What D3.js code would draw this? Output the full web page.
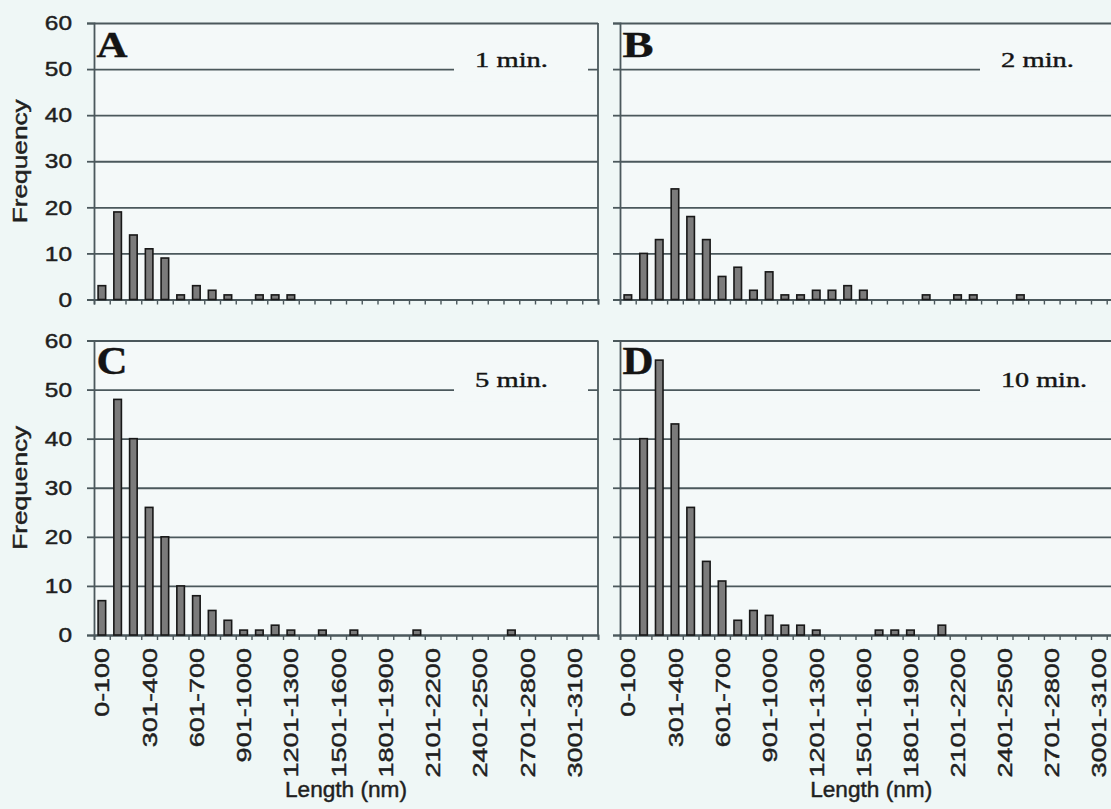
<!DOCTYPE html>
<html>
<head>
<meta charset="utf-8">
<script src="https://cdn.jsdelivr.net/npm/d3@7"></script>
<style>
  html, body { margin: 0; padding: 0; background: #eff7f6; }
  svg { display: block; }
  .sans { font-family: "Liberation Sans", Arial, Helvetica, sans-serif; fill: #1f1f1f; stroke: #1f1f1f; stroke-width: 0.45; }
  .serif { font-family: "Liberation Serif", "Times New Roman", serif; fill: #141414; stroke: #141414; stroke-width: 0.4; }
</style>
</head>
<body>
<svg id="chart" width="1111" height="809"></svg>
<script>
// Length classes (nm), 100 nm wide
const categories = [
  "0-100", "101-200", "201-300", "301-400", "401-500", "501-600", "601-700", "701-800",
  "801-900", "901-1000", "1001-1100", "1101-1200", "1201-1300", "1301-1400", "1401-1500", "1501-1600",
  "1601-1700", "1701-1800", "1801-1900", "1901-2000", "2001-2100", "2101-2200", "2201-2300", "2301-2400",
  "2401-2500", "2501-2600", "2601-2700", "2701-2800", "2801-2900", "2901-3000", "3001-3100", "3101-3200"
];
// Every third class is labelled on the x axis
const tickLabels = [
  "0-100", "301-400", "601-700", "901-1000", "1201-1300", "1501-1600",
  "1801-1900", "2101-2200", "2401-2500", "2701-2800", "3001-3100"
];
const yTicks = [0, 10, 20, 30, 40, 50, 60];

// Frequency counts per length class
const freq1min = [3, 19, 14, 11, 9, 1, 3, 2, 1, 0, 1, 1, 1, 0, 0, 0, 0, 0, 0, 0, 0, 0, 0, 0, 0, 0, 0, 0, 0, 0, 0, 0];
const freq2min = [1, 10, 13, 24, 18, 13, 5, 7, 2, 6, 1, 1, 2, 2, 3, 2, 0, 0, 0, 1, 0, 1, 1, 0, 0, 1, 0, 0, 0, 0, 0, 0];
const freq5min = [7, 48, 40, 26, 20, 10, 8, 5, 3, 1, 1, 2, 1, 0, 1, 0, 1, 0, 0, 0, 1, 0, 0, 0, 0, 0, 1, 0, 0, 0, 0, 0];
const freq10min = [0, 40, 56, 43, 26, 15, 11, 3, 5, 4, 2, 2, 1, 0, 0, 0, 1, 1, 1, 0, 2, 0, 0, 0, 0, 0, 0, 0, 0, 0, 0, 0];

const panelLetters = ["A", "B", "C", "D"];
const panelTimes = ["1 min.", "2 min.", "5 min.", "10 min."];
const yTitle = "Frequency";
const xTitle = "Length (nm)";

// Panel frames (pixels)
const panels = [
  { letter: panelLetters[0], time: panelTimes[0], values: freq1min,  x0: 94,  x1: 598,    y0: 23,    y1: 299.5, yLabels: true,  xLabels: false },
  { letter: panelLetters[1], time: panelTimes[1], values: freq2min,  x0: 620, x1: 1122.4, y0: 23,    y1: 299.5, yLabels: false, xLabels: false },
  { letter: panelLetters[2], time: panelTimes[2], values: freq5min,  x0: 94,  x1: 598,    y0: 340.5, y1: 635,   yLabels: true,  xLabels: true },
  { letter: panelLetters[3], time: panelTimes[3], values: freq10min, x0: 620, x1: 1122.4, y0: 340.5, y1: 635,   yLabels: false, xLabels: true }
];

const GRID = "#4b585c";
const PLOT_BG = "#f4f9f9";
const svg = d3.select("#chart");

svg.append("rect").attr("width", 1111).attr("height", 809).attr("fill", "#eff7f6");

panels.forEach(p => {
  const g = svg.append("g");
  const w = p.x1 - p.x0;

  const x = d3.scaleBand().domain(categories).range([p.x0, p.x1])
    .paddingInner(0.52).paddingOuter(0.26);
  const xEdge = d3.scaleLinear().domain([0, categories.length]).range([p.x0, p.x1]);
  const y = d3.scaleLinear().domain([0, 60]).range([p.y1, p.y0]);

  // plot area
  g.append("rect").attr("x", p.x0).attr("y", p.y0).attr("width", w).attr("height", p.y1 - p.y0)
    .attr("fill", PLOT_BG);

  // horizontal gridlines
  const grid = g.append("g").attr("transform", `translate(${p.x0},0)`)
    .call(d3.axisLeft(y).tickValues(yTicks).tickSize(-w).tickFormat(""));
  grid.select(".domain").remove();
  grid.selectAll("line").attr("stroke", GRID).attr("stroke-width", 1.8);

  // right frame
  g.append("line").attr("x1", p.x1).attr("x2", p.x1).attr("y1", p.y0).attr("y2", p.y1)
    .attr("stroke", GRID).attr("stroke-width", 1.8);

  // time label on a cleared patch of the 50 gridline
  const yl = y(50);
  g.append("rect").attr("x", p.x0 + 360).attr("y", yl - 22).attr("width", 134).attr("height", 34)
    .attr("fill", PLOT_BG);
  g.append("text").attr("class", "serif")
    .attr("x", p.x0 + 381).attr("y", yl - 2.5)
    .attr("font-size", 20.5)
    .attr("textLength", p.time.length > 6 ? 86 : 73).attr("lengthAdjust", "spacingAndGlyphs")
    .text(p.time);

  // panel letter
  g.append("text").attr("class", "serif")
    .attr("x", p.x0 + 2.5).attr("y", p.y0 + 33.5)
    .attr("font-size", p.y0 < 100 ? 35 : 39).attr("font-weight", "bold")
    .attr("textLength", 31).attr("lengthAdjust", "spacingAndGlyphs")
    .text(p.letter);

  // y axis with outward ticks
  const ya = g.append("g").attr("transform", `translate(${p.x0},0)`)
    .call(d3.axisLeft(y).tickValues(yTicks).tickSize(7).tickPadding(15));
  ya.select(".domain").attr("stroke", GRID).attr("stroke-width", 1.8);
  ya.selectAll(".tick line").attr("stroke", GRID).attr("stroke-width", 1.8);
  if (p.yLabels) {
    ya.selectAll(".tick text")
      .attr("class", "sans")
      .attr("font-size", 21)
      .attr("fill", "#1f1f1f")
      .attr("textLength", d => String(d).length * 13.6)
      .attr("lengthAdjust", "spacingAndGlyphs");
  } else {
    ya.selectAll(".tick text").remove();
  }

  // x axis with class-boundary ticks
  const xa = g.append("g").attr("transform", `translate(0,${p.y1})`)
    .call(d3.axisBottom(xEdge).tickValues(d3.range(0, categories.length + 1)).tickSize(5).tickFormat(""));
  xa.select(".domain").attr("stroke", GRID).attr("stroke-width", 1.8);
  xa.selectAll(".tick line").attr("stroke", GRID).attr("stroke-width", 1.4);

  // bars
  g.append("g").selectAll("rect")
    .data(p.values.map((v, i) => ({ cat: categories[i], v })).filter(d => d.v > 0))
    .join("rect")
    .attr("x", d => x(d.cat))
    .attr("width", x.bandwidth())
    .attr("y", d => y(d.v))
    .attr("height", d => y(0) - y(d.v))
    .attr("fill", "#7b7b7b")
    .attr("stroke", "#181818")
    .attr("stroke-width", 1.6);

  // rotated class labels
  if (p.xLabels) {
    g.append("g").selectAll("text")
      .data(tickLabels)
      .join("text")
      .attr("class", "sans")
      .attr("font-size", 21)
      .attr("text-anchor", "end")
      .attr("dy", "0.36em")
      .attr("transform", d => `translate(${x(d) + x.bandwidth() / 2},${p.y1 + 13}) rotate(-90)`)
      .attr("textLength", d => d.replace("-", "").length * 15.2 + 8)
      .attr("lengthAdjust", "spacingAndGlyphs")
      .text(d => d);

    g.append("text").attr("class", "sans")
      .attr("x", (p.x0 + p.x1) / 2).attr("y", 797)
      .attr("text-anchor", "middle").attr("font-size", 22)
      .attr("textLength", 122).attr("lengthAdjust", "spacingAndGlyphs")
      .text(xTitle);
  }

  if (p.yLabels) {
    g.append("text").attr("class", "sans")
      .attr("transform", `translate(27,${(p.y0 + p.y1) / 2}) rotate(-90)`)
      .attr("text-anchor", "middle").attr("font-size", 20)
      .attr("textLength", 124).attr("lengthAdjust", "spacingAndGlyphs")
      .text(yTitle);
  }
});
</script>
</body>
</html>
